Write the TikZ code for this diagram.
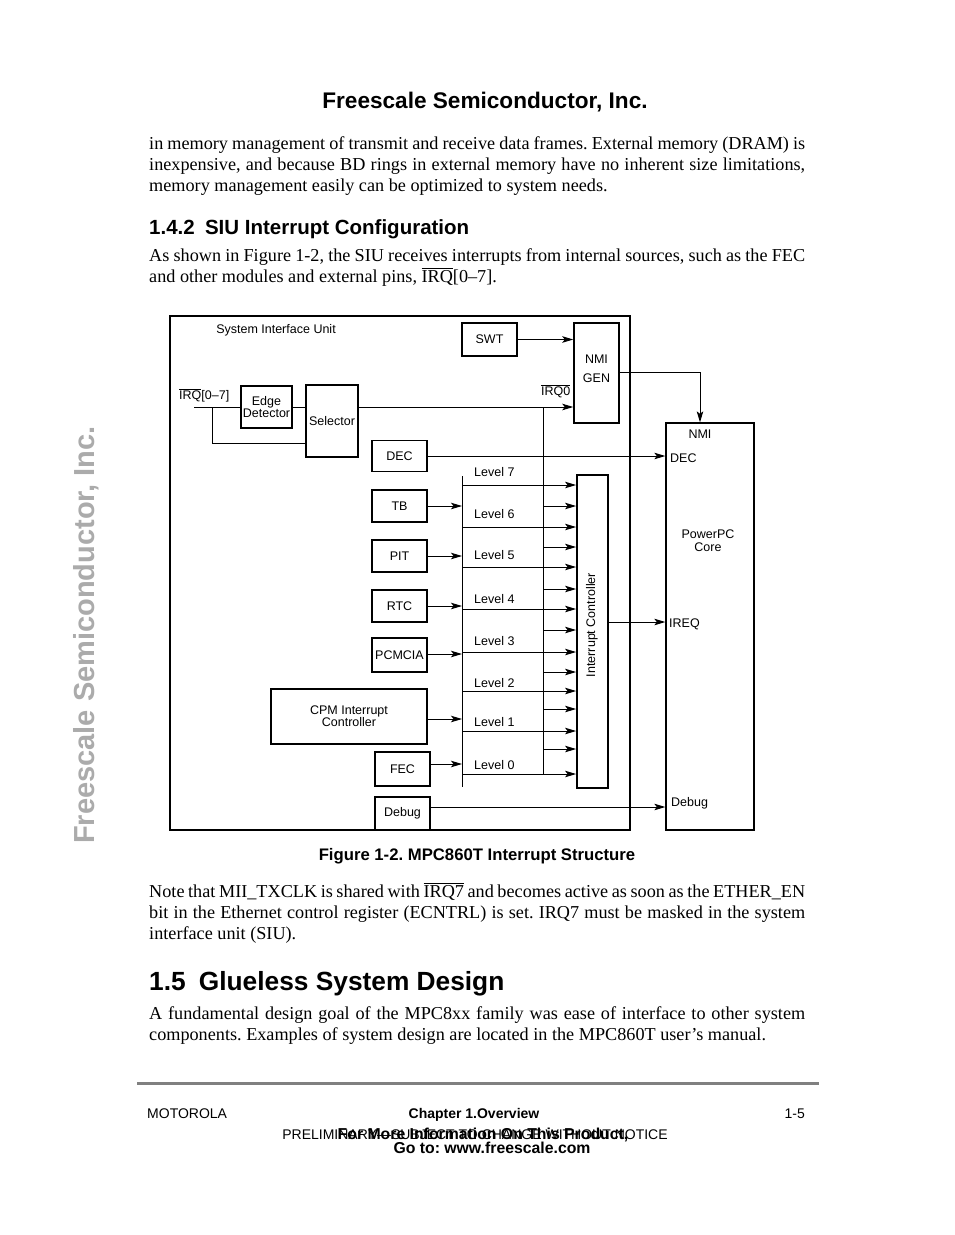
\documentclass[tikz,border=0pt]{standalone}
\usepackage{fontspec}
\setmainfont{Liberation Serif}
\setsansfont{Liberation Sans}
\usetikzlibrary{arrows.meta}
\frenchspacing
\newcommand\ovl[1]{\ensuremath{\overline{\hbox{#1}}}}
\newcommand\jline[1]{\makebox[656pt][s]{#1}}
\newcommand\dfont{\sffamily\fontsize{12.5}{13}\selectfont}
\newcommand\bodyfont{\rmfamily\fontsize{18.2}{21}\selectfont\frenchspacing}
\begin{document}
\begin{tikzpicture}[x=1pt,y=-1pt,
  blk/.style={draw, line width=1.8pt, inner sep=0pt, font=\dfont, align=center},
  lbl/.style={inner sep=0pt, font=\dfont},
  body/.style={inner sep=0pt, anchor=base west, font=\bodyfont},
  ln/.style={line width=1pt},
  arr/.style={line width=1pt, -{Stealth[length=11pt,width=6.5pt,inset=2.5pt]}}]
\useasboundingbox (0,0) rectangle (954,1235);
\fill[white] (0,0) rectangle (954,1235);

% watermark
\node[inner sep=0pt, rotate=90, text=black!33, font=\sffamily\bfseries\fontsize{29}{30}\selectfont] (wm) at (86,635) {Freescale Semiconductor, Inc.};

% header
\node[inner sep=0pt, anchor=base, font=\sffamily\bfseries\fontsize{22.6}{24}\selectfont] (hdr) at (485,108) {Freescale Semiconductor, Inc.};

% paragraph 1
\node[body] (p1a) at (149,149) {\jline{in memory management of transmit and receive data frames. External memory (DRAM) is}};
\node[body] (p1b) at (149,170) {\jline{inexpensive, and because BD rings in external memory have no inherent size limitations,}};
\node[body] (p1c) at (149,191) {memory management easily can be optimized to system needs.};

% heading 1.4.2
\node[inner sep=0pt, anchor=base west, font=\sffamily\bfseries\fontsize{20.5}{24}\selectfont] (h142) at (149,234) {1.4.2\hspace{0.5em}SIU Interrupt Configuration};

% paragraph 2
\node[body] (p2a) at (149,261) {\jline{As shown in Figure 1-2, the SIU receives interrupts from internal sources, such as the FEC}};
\node[body] (p2b) at (149,282) {and other modules and external pins, \ovl{IRQ}[0–7].};

% ================= diagram =================
\node[draw, line width=1.5pt, inner sep=0pt, minimum width=460, minimum height=514] (siu) at (400,573) {};
\node[lbl] (siul) at (276,330) {System Interface Unit};

\node[blk, minimum width=55, minimum height=33] (swt) at (489.5,339.5) {SWT};
\node[draw, line width=1.5pt, inner sep=0pt, minimum width=45, minimum height=100] (nmi) at (596.5,373) {};
\node[lbl, align=center, font=\sffamily\fontsize{12.5}{13}\selectfont] (nmit) at (596.5,368.5) {NMI\\[6pt]GEN};

\node[draw, line width=1.3pt, inner sep=0pt, minimum width=88, minimum height=407] (ppc) at (710,626.5) {};
\node[lbl] (ppcnmi) at (700,434) {NMI};
\node[lbl, align=center, font=\sffamily\fontsize{12.5}{13}\selectfont] (ppct) at (708,541) {PowerPC\\Core};
\node[lbl, anchor=west] (ppcdec) at (670,458) {DEC};
\node[lbl, anchor=west] (ppcireq) at (669,624) {IREQ};
\node[lbl, anchor=west] (ppcdbg) at (671,803) {Debug};

\node[blk, minimum width=51, minimum height=42, font=\sffamily\fontsize{12.5}{11}\selectfont] (ed) at (266.5,407) {Edge\\Detector};
\node[blk, minimum width=52, minimum height=72] (sel) at (332,421) {Selector};
\node[lbl, anchor=base west] (irql) at (179,399.5) {\ovl{IRQ}[0–7]};
\node[lbl, anchor=base west] (irq0l) at (541,395.5) {\ovl{IRQ0}};

\node[blk, minimum width=55, minimum height=31] (dec) at (399.5,456) {DEC};
\node[blk, minimum width=55, minimum height=32] (tb) at (399.5,506) {TB};
\node[blk, minimum width=55, minimum height=32] (pit) at (399.5,556) {PIT};
\node[blk, minimum width=55, minimum height=32] (rtc) at (399.5,606) {RTC};
\node[blk, minimum width=55, minimum height=34] (pcm) at (399.5,655) {PCMCIA};
\node[blk, minimum width=156, minimum height=55, font=\sffamily\fontsize{12.5}{12}\selectfont] (cpm) at (349,716.5) {CPM Interrupt\\Controller};
\node[blk, minimum width=55, minimum height=34] (fec) at (402.5,769) {FEC};
\node[blk, line width=1.5pt, minimum width=55, minimum height=33] (dbg) at (402.5,813.5) {Debug};

\node[draw, line width=1.8pt, inner sep=0pt, minimum width=31, minimum height=313] (ic) at (592.5,631.5) {};
\node[lbl, rotate=90] (ict) at (592,625) {Interrupt Controller};

% level labels
\node[lbl, anchor=west] (lv7) at (474,472) {Level 7};
\node[lbl, anchor=west] (lv6) at (474,514) {Level 6};
\node[lbl, anchor=west] (lv5) at (474,555) {Level 5};
\node[lbl, anchor=west] (lv4) at (474,599) {Level 4};
\node[lbl, anchor=west] (lv3) at (474,641) {Level 3};
\node[lbl, anchor=west] (lv2) at (474,683) {Level 2};
\node[lbl, anchor=west] (lv1) at (474,722) {Level 1};
\node[lbl, anchor=west] (lv0) at (474,765) {Level 0};

% coordinates
\coordinate (irqin) at (194,407);
\coordinate (br) at (212,407);
\coordinate (busL) at (462,476);
\coordinate (busLb) at (462,787);
\coordinate (busR) at (543,407);
\coordinate (busRb) at (543,774);

% connectors
\draw[ln] (irqin) -- (ed.west);
\draw[ln] (br) |- (sel.west |- 0,443);
\draw[ln] (ed.east) -- (ed.east -| sel.west);
\draw[arr] (sel.east |- 0,407) -- (nmi.west |- 0,407);
\draw[ln] (busR) -- (busRb);
\draw[ln] (busL) -- (busLb);
\draw[arr] (swt) -- (swt -| nmi.west);
\draw[arr] (nmi.east |- 0,372) -| (ppc.north -| 700,0);
\draw[arr] (dec) -- (dec -| ppc.west);
\draw[arr] (tb) -- (tb -| busL);
\draw[arr] (pit) -- (pit -| busL);
\draw[arr] (rtc) -- (rtc -| busL);
\draw[arr] (pcm.east |- 0,654) -- (busL |- 0,654);
\draw[arr] (cpm.east |- 0,719) -- (busL |- 0,719);
\draw[arr] (fec.east |- 0,764) -- (busL |- 0,764);
\foreach \yy in {485,527,567,609,652,691,731,774}
  \draw[arr] (busL |- 0,\yy) -- (ic.west |- 0,\yy);
\foreach \yy in {506,547,589,630,672,709,749}
  \draw[arr] (busR |- 0,\yy) -- (ic.west |- 0,\yy);
\draw[arr] (ic.east |- 0,622) -- (ppc.west |- 0,622);
\draw[arr] (dbg.east |- 0,807) -- (ppc.west |- 0,807);

% caption
\node[inner sep=0pt, anchor=base, font=\sffamily\bfseries\fontsize{16.7}{20}\selectfont] (cap) at (477,860) {Figure 1-2. MPC860T Interrupt Structure};

% paragraph 3
\node[body] (p3a) at (149,897) {\jline{Note that MII\_TXCLK is shared with \ovl{IRQ7} and becomes active as soon as the ETHER\_EN}};
\node[body] (p3b) at (149,918) {\jline{bit in the Ethernet control register (ECNTRL) is set. IRQ7 must be masked in the system}};
\node[body] (p3c) at (149,939) {interface unit (SIU).};

% heading 1.5
\node[inner sep=0pt, anchor=base west, font=\sffamily\bfseries\fontsize{26.3}{30}\selectfont] (h15) at (149,990) {1.5\hspace{0.5em}Glueless System Design};

% paragraph 4
\node[body] (p4a) at (149,1019) {\jline{A fundamental design goal of the MPC8xx family was ease of interface to other system}};
\node[body] (p4b) at (149,1040) {components. Examples of system design are located in the MPC860T user’s manual.};

% footer
\draw[line width=3pt, black!50] (137,1083) -- (819,1083);
\node[inner sep=0pt, anchor=base west, font=\sffamily\fontsize{14}{16}\selectfont] (fl) at (147,1118) {MOTOROLA};
\node[inner sep=0pt, anchor=base, font=\sffamily\bfseries\fontsize{14}{16}\selectfont] (fc) at (474,1118) {Chapter 1.Overview};
\node[inner sep=0pt, anchor=base east, font=\sffamily\fontsize{14}{16}\selectfont] (fr) at (805,1118) {1-5};
\node[inner sep=0pt, anchor=base, font=\sffamily\fontsize{14}{16}\selectfont] (fp) at (475,1139) {PRELIMINARY—SUBJECT TO CHANGE WITHOUT NOTICE};
\node[inner sep=0pt, anchor=base, font=\sffamily\bfseries\fontsize{15.8}{16}\selectfont] (fm) at (483,1139) {For More Information On This Product,};
\node[inner sep=0pt, anchor=base, font=\sffamily\bfseries\fontsize{15.8}{16}\selectfont] (fg) at (492,1153) {Go to: www.freescale.com};
\end{tikzpicture}
\end{document}
